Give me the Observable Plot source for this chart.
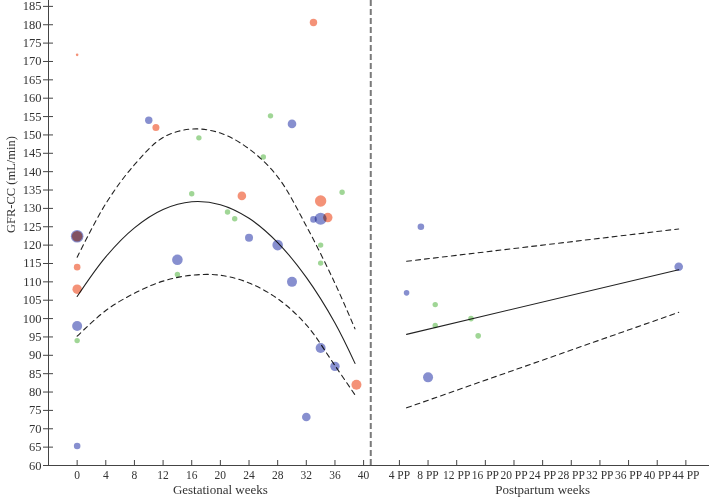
<!DOCTYPE html>
<html>
<head>
<meta charset="utf-8">
<script src="https://cdn.jsdelivr.net/npm/d3@7"></script>
<script src="https://cdn.jsdelivr.net/npm/@observablehq/plot@0.6"></script>
<style>
  html, body { margin: 0; padding: 0; background: #fff; }
  #chart svg { display: block; }
</style>
</head>
<body>
<div id="chart"></div>
<script>
// ---- Data ----
// Postpartum weeks are placed after the split at gestational week 41
const ppOffset = 41;

// Gestational-period measurements
const gestWeek = [0, 10, 11, 17, 16, 23, 21, 22, 0, 0, 0, 14, 14, 0, 0, 0, 0, 33, 27, 30, 26, 37, 34, 33, 34, 35, 24, 28, 34, 34, 30, 34, 36, 39, 32];
const gestGfr  = [171.8, 154, 152, 149.2, 134, 133.4, 129, 127.2, 122.4, 122.4, 114, 116, 112, 108, 98, 94, 65.3, 180.6, 155.2, 153, 144, 134.4, 132, 127, 127.2, 127.5, 122, 120, 120, 115.1, 110, 92, 87, 82, 73.2];
const gestGroup = ["B", "A", "B", "C", "C", "B", "C", "C", "A", "B", "B", "A", "C", "B", "A", "C", "A", "B", "C", "A", "C", "C", "B", "A", "A", "B", "A", "A", "C", "C", "A", "A", "A", "B", "A"];
const gestBubble = [1.3, 3.7, 3.5, 2.7, 2.7, 4.3, 2.7, 2.7, 6.3, 5.3, 3.3, 5.3, 2.7, 4.7, 5, 2.7, 3.3, 3.7, 2.7, 4.3, 2.7, 2.7, 5.7, 3.3, 6, 4.7, 4, 5.3, 2.7, 2.7, 5, 5, 4.7, 5, 4.3];

// Postpartum measurements
const ppWeek = [7, 5, 9, 9, 14, 15, 8, 43];
const ppGfr  = [125, 107, 103.8, 98.1, 100, 95.3, 84, 114.1];
const ppGroup = ["A", "A", "C", "C", "C", "C", "A", "A"];
const ppBubble = [3.3, 2.8, 2.7, 2.7, 2.8, 2.8, 5, 4.3];

// Fitted curve (gestation) with confidence bounds
const fitWeek  = [0, 4, 8, 12, 16, 20, 24, 28, 32, 36, 38.8];
const fitMid   = [106, 116.8, 124.7, 129.7, 131.8, 131.0, 127.3, 120.7, 111.2, 98.8, 87.8];
const fitUpper = [116.7, 131.3, 141.9, 149.3, 151.6, 150.5, 146.2, 138.6, 125.2, 109.6, 97.2];
const fitLower = [95.2, 102.2, 106.9, 110.2, 111.8, 111.8, 109.7, 105.4, 98.3, 87.2, 79.2];

// Fitted line (postpartum) with confidence bounds
const ppFitWeek  = [5, 43];
const ppFitMid   = [95.7, 113.3];
const ppFitUpper = [115.6, 124.4];
const ppFitLower = [75.7, 101.7];

// Axis ticks
const gestTicks = [0, 4, 8, 12, 16, 20, 24, 28, 32, 36, 40];
const ppTicks = [4, 8, 12, 16, 20, 24, 28, 32, 36, 40, 44];
const yTicks = d3.range(60, 186, 5);
const xDomain = [-4, 88.3];
const yDomain = [60, 186.6];

const groups = ["A", "B", "C"];
const groupColors = ["#7d85cb", "#f3896c", "#98d28d"];

// ---- Build tables ----
const points = [
  ...gestWeek.map((w, i) => ({x: w, y: gestGfr[i], g: gestGroup[i], r: gestBubble[i]})),
  ...ppWeek.map((w, i) => ({x: w + ppOffset, y: ppGfr[i], g: ppGroup[i], r: ppBubble[i]}))
];
const fitRows = (ws, vs, off) => ws.map((w, i) => ({x: w + off, y: vs[i]}));

const xTickPos = [...gestTicks, ...ppTicks.map(t => t + ppOffset)];
const xTickLabel = new Map([
  ...gestTicks.map(t => [t, String(t)]),
  ...ppTicks.map(t => [t + ppOffset, t + " PP"])
]);
const xTitles = [
  {label: "Gestational weeks", at: d3.mean(gestTicks)},
  {label: "Postpartum weeks", at: d3.mean(ppTicks) + ppOffset}
];

const font = "'Liberation Serif', 'DejaVu Serif', serif";

const chart = Plot.plot({
  width: 709,
  height: 502,
  marginLeft: 48,
  marginRight: 0,
  marginTop: 0,
  marginBottom: 37,
  style: {fontFamily: font, fontSize: "12px", color: "#333", background: "#fff"},
  x: {domain: xDomain},
  y: {domain: yDomain},
  r: {type: "identity"},
  color: {domain: groups, range: groupColors},
  marks: [
    // axis lines
    Plot.ruleX([xDomain[0]], {stroke: "#444", strokeWidth: 1}),
    Plot.ruleY([yDomain[0]], {stroke: "#444", strokeWidth: 1}),
    // y ticks (crossing) and labels
    Plot.axisY({ticks: yTicks, tickSize: 10, dx: 5, tickFormat: () => "", label: null, stroke: "#444"}),
    Plot.axisY({ticks: yTicks, tickSize: 0, tickPadding: 7, label: null, fill: "#333", fontSize: 12.5}),
    // x ticks (inward) and labels
    Plot.axisX({ticks: xTickPos, tickSize: 5, dy: -5, tickFormat: () => "", label: null, stroke: "#444"}),
    Plot.axisX({ticks: xTickPos, tickSize: 0, tickPadding: 5, tickFormat: d => xTickLabel.get(d), label: null, fill: "#333", fontSize: 11.5}),
    // split line
    Plot.ruleX([ppOffset], {stroke: "#7a7a7a", strokeWidth: 2, strokeDasharray: "6,3"}),
    // fitted curves
    Plot.line(fitRows(fitWeek, fitMid, 0), {x: "x", y: "y", curve: "catmull-rom", stroke: "#222", strokeWidth: 1.1}),
    Plot.line(fitRows(fitWeek, fitUpper, 0), {x: "x", y: "y", curve: "catmull-rom", stroke: "#222", strokeWidth: 1.1, strokeDasharray: "5,4"}),
    Plot.line(fitRows(fitWeek, fitLower, 0), {x: "x", y: "y", curve: "catmull-rom", stroke: "#222", strokeWidth: 1.1, strokeDasharray: "5,4"}),
    Plot.line(fitRows(ppFitWeek, ppFitMid, ppOffset), {x: "x", y: "y", stroke: "#222", strokeWidth: 1.1}),
    Plot.line(fitRows(ppFitWeek, ppFitUpper, ppOffset), {x: "x", y: "y", stroke: "#222", strokeWidth: 1.1, strokeDasharray: "5,4"}),
    Plot.line(fitRows(ppFitWeek, ppFitLower, ppOffset), {x: "x", y: "y", stroke: "#222", strokeWidth: 1.1, strokeDasharray: "5,4"}),
    // data points
    Plot.dot(points, {x: "x", y: "y", r: "r", fill: "g", fillOpacity: 0.92, mixBlendMode: "multiply"}),
    // axis titles
    Plot.text(["GFR-CC (mL/min)"], {text: d => d, frameAnchor: "left", rotate: -90, dx: -38, fontSize: 12.5, fill: "#333"}),
    Plot.text(xTitles, {x: "at", text: "label", frameAnchor: "bottom", dy: 28, fontSize: 13, fill: "#333"})
  ]
});

document.getElementById("chart").appendChild(chart);
</script>
</body>
</html>
